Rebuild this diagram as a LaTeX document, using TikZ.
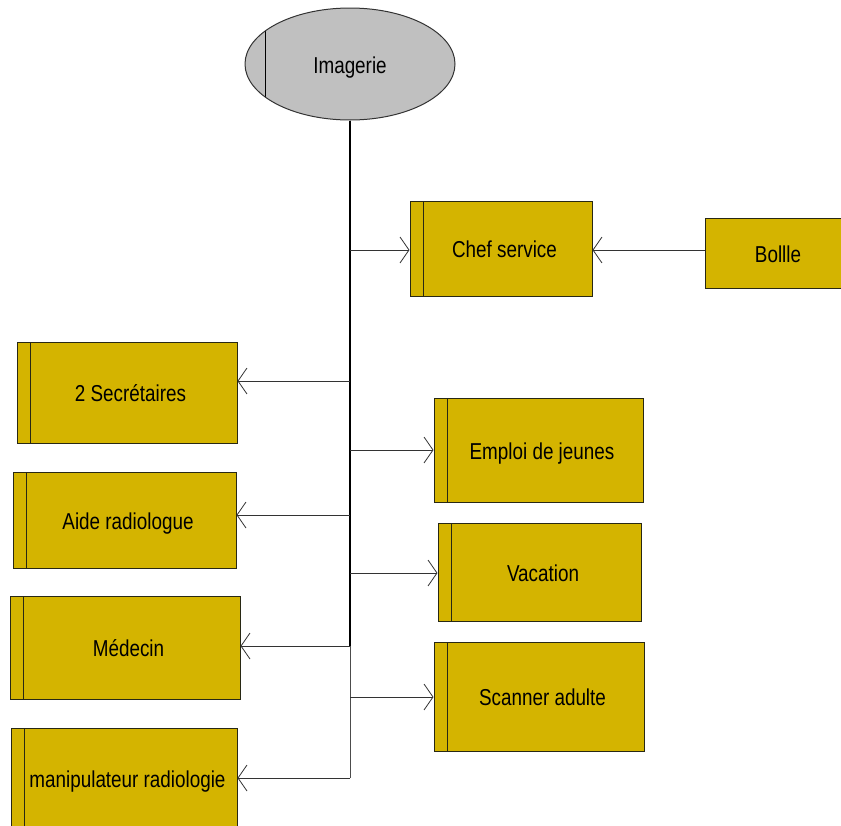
\documentclass[tikz,border=0pt]{standalone}
\usepackage{fontspec}
\setmainfont{Liberation Sans}[FakeStretch=0.82]
\usetikzlibrary{arrows.meta,calc,shapes.geometric}
\definecolor{gold}{RGB}{212,180,0}
\definecolor{ellgray}{RGB}{192,192,192}
\definecolor{edge}{RGB}{40,40,20}
\tikzset{
  orgbox/.style={draw=edge, line width=1pt, fill=gold, rectangle, inner sep=0pt,
    font=\fontsize{23}{27}\selectfont, text height=19pt, text depth=1pt,
    execute at begin node={\hspace*{7pt}},
    path picture={\draw[edge, line width=1pt] ([xshift=13pt]path picture bounding box.north west) -- ([xshift=13pt]path picture bounding box.south west);}},
  plainbox/.style={draw=edge, line width=1pt, fill=gold, rectangle, inner sep=0pt,
    font=\fontsize{23}{27}\selectfont, text height=19pt, text depth=1pt},
  conn/.style={draw=black!80, line width=0.9pt, -{Straight Barb[length=9pt,width=26pt,line width=0.8pt]}},
  trunk/.style={draw=black, line width=2.2pt},
  trunkthin/.style={draw=black!70, line width=1pt}
}
\begin{document}
\begin{tikzpicture}[x=1pt,y=-1pt]
\useasboundingbox (0,0) rectangle (841,825);
% top ellipse
\node[ellipse, draw=black!80, line width=1pt, fill=ellgray, minimum width=210pt, minimum height=112pt, inner sep=0pt,
  font=\fontsize{23}{27}\selectfont, text height=19pt, text depth=1pt,
  path picture={\draw[black, line width=1pt] ([xshift=20pt]path picture bounding box.north west) -- ([xshift=20pt]path picture bounding box.south west);}]
  (img) at (350,64) {Imagerie};
% boxes
\node[orgbox, minimum width=182pt, minimum height=95pt] (chef) at (501,248.5) {Chef service};
\node[plainbox, minimum width=140pt, minimum height=70pt] (bollle) at (775,253) {\hspace*{6pt}Bollle};
\node[orgbox, minimum width=220pt, minimum height=101pt] (sec) at (127,392.5) {2 Secrétaires};
\node[orgbox, minimum width=209pt, minimum height=104pt] (emploi) at (538.5,450) {Emploi de jeunes};
\node[orgbox, minimum width=223pt, minimum height=96pt] (aide) at (124.5,520) {Aide radiologue};
\node[orgbox, minimum width=203pt, minimum height=98pt] (vac) at (539.5,572) {Vacation};
\node[orgbox, minimum width=230pt, minimum height=103pt] (med) at (125,647.5) {Médecin};
\node[orgbox, minimum width=210pt, minimum height=109pt] (scan) at (539,696.5) {Scanner adulte};
\node[orgbox, minimum width=226pt, minimum height=100pt] (manip) at (124,778) {manipulateur radiologie};
% trunk junctions
\coordinate (j1) at (350,250);
\coordinate (j2) at (350,381);
\coordinate (j3) at (350,450);
\coordinate (j4) at (350,515);
\coordinate (j5) at (350,573);
\coordinate (j6) at (350,646);
\coordinate (j7) at (350,697);
\coordinate (j8) at (350,778);
\draw[trunk] (img.south) -- (j6);
\draw[trunkthin] (j6) -- (j8);
% connectors
\draw[conn] (j1) -- (j1 -| chef.west);
\draw[conn] (bollle.west |- j1) -- (j1 -| chef.east);
\draw[conn] (j2) -- (j2 -| sec.east);
\draw[conn] (j3) -- (j3 -| emploi.west);
\draw[conn] (j4) -- (j4 -| aide.east);
\draw[conn] (j5) -- (j5 -| vac.west);
\draw[conn] (j6) -- (j6 -| med.east);
\draw[conn] (j7) -- (j7 -| scan.west);
\draw[conn] (j8) -- (j8 -| manip.east);
\end{tikzpicture}
\end{document}
